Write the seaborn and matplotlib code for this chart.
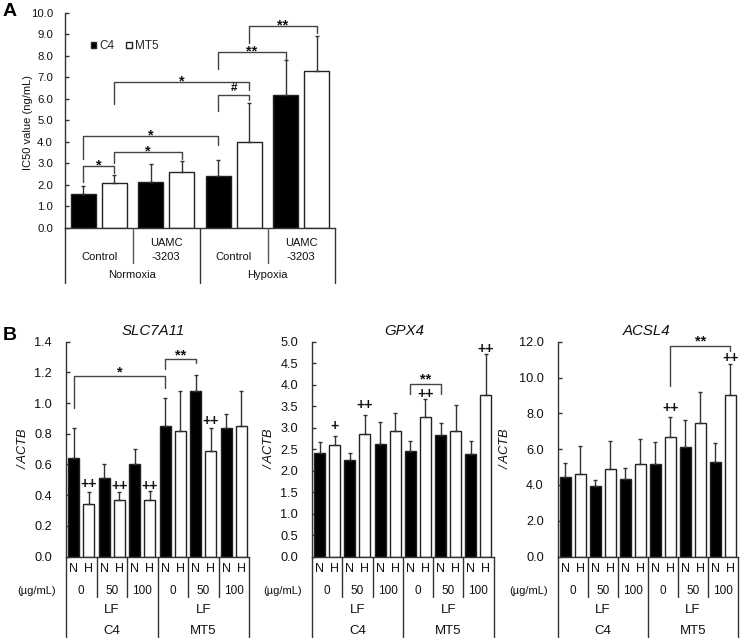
import matplotlib
matplotlib.use("Agg")
import matplotlib.pyplot as plt
from matplotlib.lines import Line2D
import pandas as pd
import seaborn as sns

sns.set_style("white")
plt.rcParams['font.family'] = ['Liberation Sans', 'DejaVu Sans']

W, H = 740, 640

# Panel A
a_groups = ["Normoxia Control", "Normoxia UAMC", "Hypoxia Control", "Hypoxia UAMC"]
a_c4 = [1.6, 2.15, 2.42, 6.2]
a_mt5 = [2.07, 2.6, 4.0, 7.3]
a_c4_top = [1.95, 2.97, 3.15, 7.8]
a_mt5_top = [2.45, 3.1, 5.8, 8.9]

# Panel B
b_groups = ["C4 0", "C4 50", "C4 100", "MT5 0", "MT5 50", "MT5 100"]
b_doses = ["0", "50", "100", "0", "50", "100"]
slc_n = [0.64, 0.51, 0.60, 0.85, 1.08, 0.84]
slc_h = [0.34, 0.365, 0.37, 0.82, 0.69, 0.85]
slc_n_top = [0.84, 0.60, 0.70, 1.03, 1.185, 0.93]
slc_h_top = [0.42, 0.42, 0.43, 1.08, 0.84, 1.08]
gpx_n = [2.4, 2.25, 2.63, 2.46, 2.83, 2.38]
gpx_h = [2.6, 2.86, 2.93, 3.24, 2.93, 3.75]
gpx_n_top = [2.67, 2.4, 3.12, 2.7, 3.1, 2.68]
gpx_h_top = [2.8, 3.3, 3.35, 3.67, 3.53, 4.72]
acs_n = [4.45, 3.95, 4.35, 5.15, 6.1, 5.3]
acs_h = [4.6, 4.9, 5.15, 6.65, 7.45, 9.0]
acs_n_top = [5.2, 4.25, 4.95, 6.4, 7.65, 6.35]
acs_h_top = [6.2, 6.45, 6.55, 7.8, 9.2, 10.75]

fig = plt.figure(figsize=(W / 100, H / 100), dpi=100)


def make_axes(l, r, top, bottom):
    return fig.add_axes([l / W, 1 - bottom / H, (r - l) / W, (bottom - top) / H])


def ptext(x, y, s, **kw):
    kw.setdefault("ha", "center")
    kw.setdefault("va", "center")
    kw.setdefault("color", "#111111")
    fig.text(x / W, 1 - y / H, s, **kw)


def pline(x0, y0, x1, y1, color="#333333", lw=1.0):
    fig.add_artist(Line2D([x0 / W, x1 / W], [1 - y0 / H, 1 - y1 / H], color=color, lw=lw))


def draw(ax, groups, names, v1, v2, top1, top2, ylim, ticks, width, gap, fs, pad, legend=False):
    df = pd.DataFrame({
        "group": list(groups) * 2,
        "series": [names[0]] * len(groups) + [names[1]] * len(groups),
        "value": list(v1) + list(v2),
    })
    sns.barplot(data=df, x="group", y="value", hue="series", ax=ax,
                palette={names[0]: "black", names[1]: "white"}, saturation=1,
                edgecolor="#222222", linewidth=1.0, width=width, gap=gap,
                errorbar=None, legend=legend)
    centers = []
    for cont, vals, tops in zip(ax.containers, (v1, v2), (top1, top2)):
        xs = [p.get_x() + p.get_width() / 2 for p in cont]
        centers.append(xs)
        ax.errorbar(xs, vals, yerr=[[0] * len(vals), [t - v for t, v in zip(tops, vals)]],
                    fmt="none", ecolor="#333333", elinewidth=1.0, capsize=1.2, capthick=1.0)
    ax.set_ylim(*ylim)
    ax.set_xlim(-0.5, len(groups) - 0.5)
    ax.set_yticks(ticks)
    ax.set_yticklabels(["%.1f" % t for t in ticks], fontsize=fs, color="#111111")
    ax.set_xticks([])
    ax.set_xlabel("")
    ax.set_ylabel("")
    ax.tick_params(axis="y", direction="in", length=3, width=1, color="#333333", left=True, pad=pad)
    sns.despine(ax=ax)
    for s in ("left", "bottom"):
        ax.spines[s].set_color("#333333")
        ax.spines[s].set_linewidth(1.0)
    ax.patch.set_alpha(0)
    return centers


def bracket(ax, x0, x1, y0, y1, top):
    ax.plot([x0, x0, x1, x1], [y0, top, top, y1], color="#444444", lw=1.0, clip_on=False,
            solid_joinstyle="round")


def mark(ax, x, y, s, fs=10.5):
    ax.text(x, y, s, ha="center", va="center", fontsize=fs, color="#111111", fontweight="bold")


# ---------- Panel A ----------
axA = make_axes(65, 335, 12.7, 228)
cA = draw(axA, a_groups, ("C4", "MT5"), a_c4, a_mt5, a_c4_top, a_mt5_top, (0, 10),
          [i * 1.0 for i in range(11)], 0.92, 0.2, 8.2, 8.6, legend=True)
sns.move_legend(axA, "upper left", bbox_to_anchor=(0.095, 0.872), ncol=2, frameon=False, title=None,
                fontsize=8.5, handlelength=0.45, handleheight=0.45, handletextpad=0.3,
                columnspacing=1.0, borderpad=0, borderaxespad=0)
c4, mt5 = cA
bracket(axA, c4[0], mt5[0], 2.15, 2.55, 2.9)
mark(axA, (c4[0] + mt5[0]) / 2, 2.92, "*")
bracket(axA, mt5[0], mt5[1], 3.0, 3.2, 3.53)
mark(axA, (mt5[0] + mt5[1]) / 2, 3.55, "*")
bracket(axA, c4[0], c4[2], 3.2, 3.85, 4.29)
mark(axA, (c4[0] + c4[2]) / 2, 4.31, "*")
bracket(axA, mt5[0], mt5[2], 5.75, 6.4, 6.8)
mark(axA, (mt5[0] + mt5[2]) / 2, 6.82, "*")
bracket(axA, c4[2], mt5[2], 5.43, 5.95, 6.2)
mark(axA, (c4[2] + mt5[2]) / 2, 6.5, "#", fs=8.5)
bracket(axA, c4[2], c4[3], 7.37, 7.8, 8.19)
mark(axA, (c4[2] + c4[3]) / 2, 8.21, "**")
bracket(axA, mt5[2], mt5[3], 8.58, 9.04, 9.38)
mark(axA, (mt5[2] + mt5[3]) / 2, 9.4, "**")

for x in (132.7, 267.7):
    pline(x, 228, x, 263, color="#555555")
for x in (65, 200, 335):
    pline(x, 228, x, 283)
ptext(99, 257, "Control", fontsize=8)
ptext(166, 243, "UAMC", fontsize=8)
ptext(166, 257, "-3203", fontsize=8)
ptext(234, 257, "Control", fontsize=8)
ptext(301, 243, "UAMC", fontsize=8)
ptext(301, 257, "-3203", fontsize=8)
ptext(132, 275, "Normoxia", fontsize=8)
ptext(267, 275, "Hypoxia", fontsize=8)
ptext(28, 122, "IC50 value (ng/mL)", fontsize=8, rotation=90)
ptext(10, 12, "A", fontsize=14, fontweight="bold", color="black")
ptext(10, 335, "B", fontsize=14, fontweight="bold", color="black")


# ---------- Panel B ----------
def lower(l, r, title, title_x, yl):
    step = (r - l) / 6
    top = 556.5
    for i in range(7):
        x = l + i * step
        pline(x, top, x, 636.5 if i in (0, 3, 6) else 596.5)
    for i in range(6):
        cx = l + (i + 0.5) * step
        ptext(cx - 7.6, 568.5, "N", fontsize=9)
        ptext(cx + 7.6, 568.5, "H", fontsize=9)
        ptext(cx, 590.5, b_doses[i], fontsize=8.5)
    ptext(l + 1.5 * step, 610, "LF", fontsize=9.5)
    ptext(l + 4.5 * step, 610, "LF", fontsize=9.5)
    ptext(l + 1.5 * step, 631, "C4", fontsize=9.5)
    ptext(l + 4.5 * step, 631, "MT5", fontsize=9.5)
    ptext(l - 29, 590.5, "(µg/mL)", fontsize=8)
    ptext(yl, 449, "/ ACTB", fontsize=9.2, rotation=90, style="italic")
    ptext(title_x, 331, title, fontsize=10.8, style="italic")


names = ("N", "H")
# SLC7A11
ax1 = make_axes(66, 249, 341.7, 556.5)
n, h = draw(ax1, b_groups, names, slc_n, slc_h, slc_n_top, slc_h_top, (0, 1.4),
            [0.0, 0.2, 0.4, 0.6, 0.8, 1.0, 1.2, 1.4], 1.0, 0.28, 9.2, 10)
bracket(ax1, n[0], n[3], 0.966, 1.096, 1.176)
mark(ax1, (n[0] + n[3]) / 2, 1.2, "*")
bracket(ax1, n[3], n[4], 1.22, 1.26, 1.287)
mark(ax1, (n[3] + n[4]) / 2, 1.31, "**")
for i, y in ((0, 0.47), (1, 0.46), (2, 0.46), (4, 0.88)):
    mark(ax1, h[i], y, "++", fs=10)
lower(66, 249, "SLC7A11", 153, 24)

# GPX4
ax2 = make_axes(312, 493.5, 341.7, 556.5)
n, h = draw(ax2, b_groups, names, gpx_n, gpx_h, gpx_n_top, gpx_h_top, (0, 5),
            [0.5 * i for i in range(11)], 1.0, 0.28, 9.2, 10)
bracket(ax2, n[3], n[4], 3.78, 3.78, 4.01)
mark(ax2, (n[3] + n[4]) / 2, 4.13, "**")
for i, y, s in ((0, 3.03, "+"), (1, 3.52, "++"), (3, 3.79, "++"), (5, 4.84, "++")):
    mark(ax2, h[i], y, s, fs=10)
lower(312, 493.5, "GPX4", 404, 270)

# ACSL4
ax3 = make_axes(557.7, 738, 341.7, 556.5)
n, h = draw(ax3, b_groups, names, acs_n, acs_h, acs_n_top, acs_h_top, (0, 12),
            [2.0 * i for i in range(7)], 1.0, 0.28, 9.2, 10)
bracket(ax3, h[3], h[5], 9.5, 11.5, 11.78)
mark(ax3, (h[3] + h[5]) / 2, 12.0, "**")
for i, y in ((3, 8.3), (5, 11.1)):
    mark(ax3, h[i], y, "++", fs=10)
lower(557.7, 738, "ACSL4", 647, 506)

fig.savefig("out.png", dpi=100, facecolor="white")
